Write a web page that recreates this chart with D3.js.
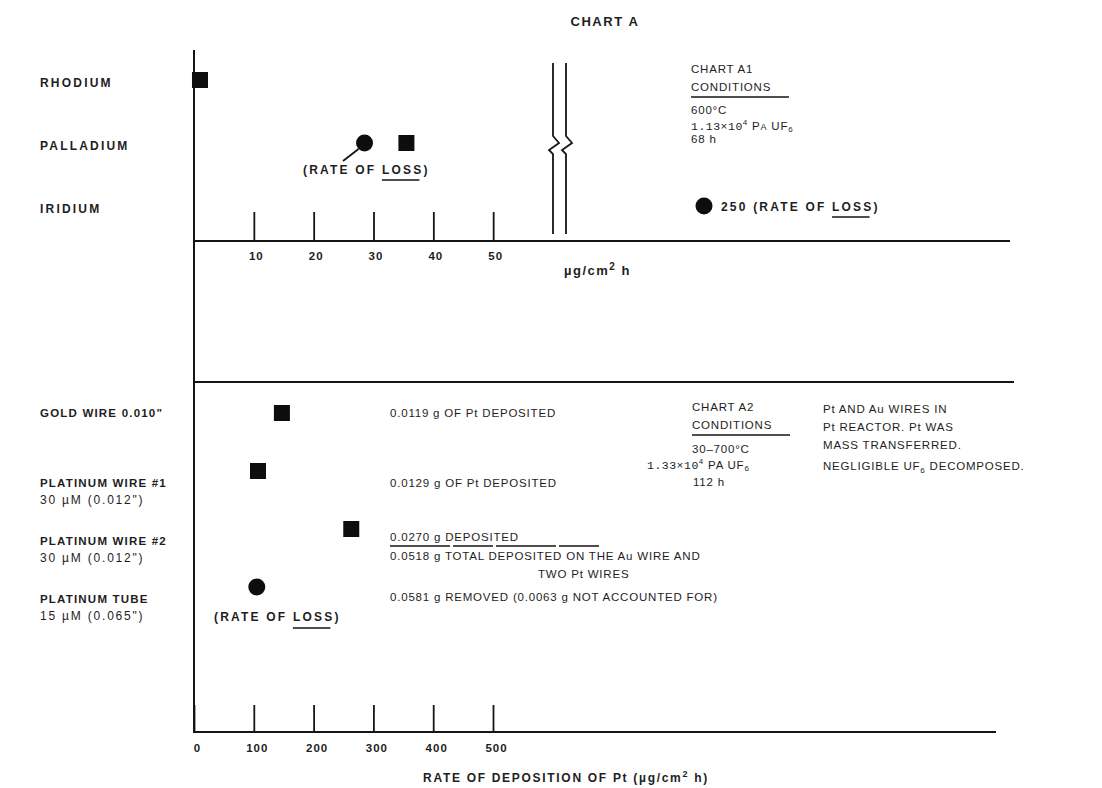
<!DOCTYPE html>
<html>
<head>
<meta charset="utf-8">
<script src="https://cdn.jsdelivr.net/npm/d3@7"></script>
<style>
  body { margin: 0; background: #fff; }
  svg text { font-family: "Liberation Sans", Arial, sans-serif; font-weight: bold; font-size: 12px; fill: #1e1e1e; letter-spacing: 2.2px; }
  svg text.note { font-weight: normal; font-size: 11.5px; letter-spacing: 0.8px; }
  svg text.spec { font-size: 11.5px; letter-spacing: 1.2px; }
  .mono { font-family: "Liberation Mono", "DejaVu Sans Mono", monospace; font-weight: normal; letter-spacing: 0.5px; }
</style>
</head>
<body>
<svg id="chart" width="1102" height="788"></svg>
<script>
// chart A1: metals, rate in ug/cm2 h
const topMetals = ["RHODIUM", "PALLADIUM", "IRIDIUM"];
const topDeposition = [1, 35.5, null];
const topLoss = [null, 28.5, 250];
const topTicks = [10, 20, 30, 40, 50];

// chart A2: wires and tube
const bottomSpecimens = ["GOLD WIRE 0.010\"", "PLATINUM WIRE #1", "PLATINUM WIRE #2", "PLATINUM TUBE"];
const bottomSubLabels = ["", "30 \u00b5M (0.012\")", "30 \u00b5M (0.012\")", "15 \u00b5M (0.065\")"];
const bottomDeposition = [147, 107, 263, null];
const bottomLoss = [null, null, null, 105];
const bottomTicks = [0, 100, 200, 300, 400, 500];
const bottomNotes = [
  "0.0119 g OF Pt DEPOSITED",
  "0.0129 g OF Pt DEPOSITED",
  "0.0270 g DEPOSITED",
  "0.0581 g REMOVED  (0.0063 g NOT ACCOUNTED FOR)"
];

const svg = d3.select("#chart");
const axisX = 194;

let xTop = d3.scaleLinear().domain([0, 60, 250]).range([axisX, 553, 704]);
let xBot = d3.scaleLinear().domain([0, 500]).range([axisX, 493]);
let yTop = d3.scalePoint().domain(topMetals).range([80, 206]);
let yBot = d3.scalePoint().domain(bottomSpecimens).range([413, 587]);

const ink = "#151515";

function line(x1, y1, x2, y2, w = 2) {
  return svg.append("line")
    .attr("x1", x1).attr("y1", y1).attr("x2", x2).attr("y2", y2)
    .attr("stroke", ink).attr("stroke-width", w);
}

// underline one word inside a text element
function underline(textSel, word, dy = 7, extra = 0) {
  let node = textSel.node();
  let full = node.textContent;
  let idx = full.lastIndexOf(word);
  let bb = node.getBBox();
  let x0 = bb.x + node.getSubStringLength(0, idx);
  let w = node.getSubStringLength(idx, word.length);
  line(x0, +textSel.attr("y") + dy, x0 + w + extra, +textSel.attr("y") + dy, 1.5);
}

// title
svg.append("text").attr("x", 605).attr("y", 26).attr("text-anchor", "middle")
  .style("font-size", "13px").style("letter-spacing", "1.6px").text("CHART A");

// main vertical axis
line(axisX, 50, axisX, 733);

// ---------- top chart ----------
line(axisX, 241, 1010, 241);
let gTop = svg.append("g").attr("transform", "translate(0,241)")
  .call(d3.axisBottom(xTop).tickValues(topTicks).tickSizeInner(-29).tickSizeOuter(0).tickPadding(11));
gTop.select(".domain").remove();
gTop.selectAll(".tick line").attr("stroke", ink).attr("stroke-width", 1.8);
gTop.selectAll(".tick text").attr("fill", "#1e1e1e").style("font-size", "11.5px").style("letter-spacing", "1px").attr("dx", 2);

// axis break
[553, 566].forEach(bx => {
  svg.append("path")
    .attr("d", `M${bx},63 V136 L${bx + 6},143 L${bx - 4},150 L${bx},154 V234`)
    .attr("fill", "none").attr("stroke", ink).attr("stroke-width", 1.8);
});

svg.append("text").attr("x", 564).attr("y", 275).style("font-size", "13px").style("letter-spacing", "1.5px")
  .html("\u00b5g/cm<tspan dy='-5' style='font-size:10px'>2</tspan><tspan dy='5'> h</tspan>");

svg.append("g").selectAll("text").data(topMetals).join("text")
  .attr("x", 40).attr("y", d => yTop(d) + 3).attr("dy", "0.35em").text(d => d);

let topSq = topMetals.map((m, i) => ({ m, v: topDeposition[i] })).filter(d => d.v != null);
let topCi = topMetals.map((m, i) => ({ m, v: topLoss[i] })).filter(d => d.v != null);

svg.append("g").selectAll("rect").data(topSq).join("rect")
  .attr("x", d => xTop(d.v) - 8).attr("y", d => yTop(d.m) - 8)
  .attr("width", 16).attr("height", 16).attr("fill", "#0d0d0d");
svg.append("g").selectAll("circle").data(topCi).join("circle")
  .attr("cx", d => xTop(d.v)).attr("cy", d => yTop(d.m)).attr("r", 8.5).attr("fill", "#0d0d0d");

// palladium loss note
let pd = yTop("PALLADIUM");
line(xTop(28.5) - 6, pd + 6, 343, pd + 18, 1.8);
let rl1 = svg.append("text").attr("x", 303).attr("y", pd + 31).text("(RATE OF LOSS)");
underline(rl1, "LOSS", 6, -4);

// iridium loss note
let rl2 = svg.append("text").attr("x", 721).attr("y", yTop("IRIDIUM") + 5).text("250 (RATE OF LOSS)");
underline(rl2, "LOSS", 6, -4);

// chart A1 conditions
svg.append("text").attr("x", 691).attr("y", 73).attr("class", "note").text("CHART A1");
svg.append("text").attr("x", 691).attr("y", 91).attr("class", "note").text("CONDITIONS");
line(691, 97, 789, 97, 1.5);
svg.append("text").attr("x", 691).attr("y", 114).attr("class", "note").text("600\u00b0C");
svg.append("text").attr("x", 691).attr("y", 130).attr("class", "note")
  .html("<tspan class='mono'>1.13\u00d710</tspan><tspan dy='-5' style='font-size:8px'>4</tspan><tspan dy='5'> P</tspan><tspan style='font-size:9px'>A</tspan> UF<tspan style='font-size:8px' dy='2'>6</tspan>");
svg.append("text").attr("x", 691).attr("y", 143).attr("class", "note").text("68 h");

// ---------- bottom chart ----------
line(axisX, 382, 1014, 382);
line(axisX, 732, 996, 732);
let gBot = svg.append("g").attr("transform", "translate(0,732)")
  .call(d3.axisBottom(xBot).tickValues(bottomTicks).tickSizeInner(-27).tickSizeOuter(0).tickPadding(12));
gBot.select(".domain").remove();
gBot.selectAll(".tick line").attr("stroke", ink).attr("stroke-width", 1.8);
gBot.selectAll(".tick text").attr("fill", "#1e1e1e").style("font-size", "11.5px").style("letter-spacing", "1px").attr("dx", 3);

svg.append("text").attr("x", 566).attr("y", 782).attr("text-anchor", "middle").style("letter-spacing", "1.7px")
  .html("RATE OF DEPOSITION OF Pt (\u00b5g/cm<tspan dy='-5' style='font-size:9px'>2</tspan><tspan dy='5'> h)</tspan>");

let labels = svg.append("g").selectAll("g").data(bottomSpecimens).join("g");
labels.append("text").attr("class", "spec").attr("x", 40)
  .attr("y", (d, i) => yBot(d) + (i === 0 ? 0 : 12)).attr("dy", "0.35em").text(d => d);
labels.append("text").attr("x", 40).style("font-weight", "normal").style("letter-spacing", "1.8px")
  .attr("y", (d, i) => yBot(d) + 29).attr("dy", "0.35em").text((d, i) => bottomSubLabels[i]);

let botSq = bottomSpecimens.map((s, i) => ({ s, v: bottomDeposition[i] })).filter(d => d.v != null);
let botCi = bottomSpecimens.map((s, i) => ({ s, v: bottomLoss[i] })).filter(d => d.v != null);

svg.append("g").selectAll("rect").data(botSq).join("rect")
  .attr("x", d => xBot(d.v) - 8).attr("y", d => yBot(d.s) - 8)
  .attr("width", 16).attr("height", 16).attr("fill", "#0d0d0d");
svg.append("g").selectAll("circle").data(botCi).join("circle")
  .attr("cx", d => xBot(d.v)).attr("cy", d => yBot(d.s)).attr("r", 8.5).attr("fill", "#0d0d0d");

let rl3 = svg.append("text").attr("x", 214).attr("y", yBot("PLATINUM TUBE") + 34).text("(RATE OF LOSS)");
underline(rl3, "LOSS", 7, -4);

// notes column
let noteY = [413, 483, 537, 597];
svg.append("g").selectAll("text").data(bottomNotes).join("text")
  .attr("class", "note").attr("x", 390).attr("y", (d, i) => noteY[i]).attr("dy", "0.35em").text(d => d);
line(390, 546, 602, 546, 1.4).attr("stroke-dasharray", "60 3 40 3");
svg.append("text").attr("class", "note").attr("x", 390).attr("y", 556).attr("dy", "0.35em")
  .text("0.0518 g TOTAL DEPOSITED ON THE Au WIRE AND");
svg.append("text").attr("class", "note").attr("x", 538).attr("y", 574).attr("dy", "0.35em")
  .text("TWO Pt WIRES");

// chart A2 conditions
svg.append("text").attr("class", "note").attr("x", 692).attr("y", 411).text("CHART A2");
svg.append("text").attr("class", "note").attr("x", 692).attr("y", 429).text("CONDITIONS");
line(692, 435, 790, 435, 1.5);
svg.append("text").attr("class", "note").attr("x", 692).attr("y", 453).text("30\u2013700\u00b0C");
svg.append("text").attr("class", "note").attr("x", 647).attr("y", 469)
  .html("<tspan class='mono'>1.33\u00d710</tspan><tspan dy='-5' style='font-size:8px'>4</tspan><tspan dy='5'>  PA UF</tspan><tspan style='font-size:8px' dy='2'>6</tspan>");
svg.append("text").attr("class", "note").attr("x", 693).attr("y", 486).text("112 h");

let rightNotes = ["Pt AND Au WIRES IN", "Pt REACTOR.  Pt WAS", "MASS TRANSFERRED."];
svg.append("g").selectAll("text").data(rightNotes).join("text")
  .attr("class", "note").attr("x", 823).attr("y", (d, i) => 413 + i * 18).text(d => d);
svg.append("text").attr("class", "note").attr("x", 823).attr("y", 470)
  .html("NEGLIGIBLE UF<tspan dy='3' style='font-size:8px'>6</tspan><tspan dy='-3'> DECOMPOSED.</tspan>");
</script>
</body>
</html>
